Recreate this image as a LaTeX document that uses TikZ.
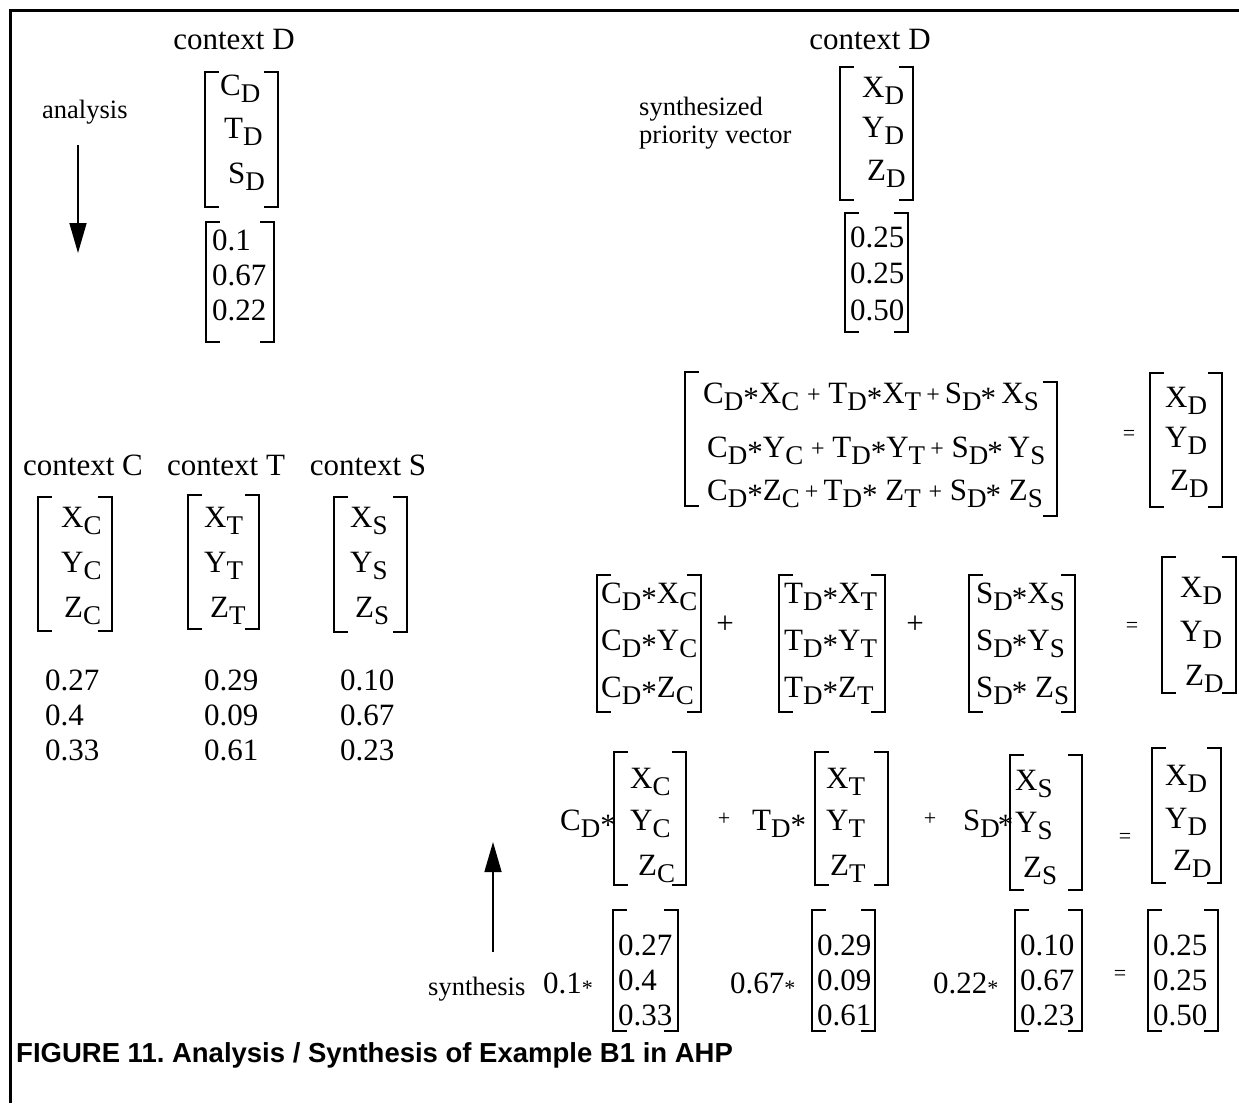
\documentclass[tikz,border=0pt]{standalone}
\usepackage{fontspec}
\setmainfont{Liberation Serif}
\newfontfamily\capfont{Liberation Sans}
\usetikzlibrary{arrows.meta}
\frenchspacing

\newcommand\mf{\fontsize{31}{36}\selectfont}
\newcommand\lf{\fontsize{26.5}{30}\selectfont}
\newcommand\lowx[1]{\raisebox{-7pt}{\fontsize{27}{27}\selectfont #1}}
\newcommand\st{\raisebox{-5pt}{*}}
\newcommand\sst{\raisebox{-2pt}{\fontsize{22}{22}\selectfont *}}
\newcommand\pl{\raisebox{1pt}{\fontsize{24}{24}\selectfont +}}

\tikzset{
  txt/.style={inner sep=0pt, font=\mf},
  lbl/.style={inner sep=0pt, font=\lf},
  sml/.style={inner sep=0pt, font=\fontsize{22}{22}\selectfont},
  brk/.style={line width=2.4pt},
  frame/.style={line width=3pt},
  arr/.style={line width=1.6pt, -{Triangle[length=30pt,width=17pt]}},
}
\newcommand\mat[4]{%
  \draw[brk] ({#1+14},#3) -- (#1,#3) -- (#1,#4) -- ({#1+14},#4);
  \draw[brk] ({#2-14},#3) -- (#2,#3) -- (#2,#4) -- ({#2-14},#4);}

\begin{document}
\begin{tikzpicture}[x=1pt,y=-1pt]
\useasboundingbox (0,0) rectangle (1239,1103);
\draw[frame] (10,1103) -- (10,10) -- (1239,10);

% ---------- top left
\node[txt,anchor=base] (ctxD1) at (234,49) {context D};
\mat{205}{278}{72}{207}
\node[txt,anchor=base west] (cd) at (220,95) {C\lowx{D}};
\node[txt,anchor=base west] (td) at (224,138) {T\lowx{D}};
\node[txt,anchor=base west] (sd) at (228,183) {S\lowx{D}};
\mat{206}{274}{222}{342}
\node[txt,anchor=base west] (w1) at (212,250) {0.1};
\node[txt,anchor=base west] (w2) at (212,285) {0.67};
\node[txt,anchor=base west] (w3) at (212,320) {0.22};
\node[lbl,anchor=base west] (anal) at (42,118) {analysis};
\coordinate (a1s) at (78,145);
\coordinate (a1e) at (78,253);
\draw[arr] (a1s) -- (a1e);

% ---------- top right
\node[txt,anchor=base] (ctxD2) at (870,49) {context D};
\node[lbl,anchor=base west] (syn1) at (639,115) {synthesized};
\node[lbl,anchor=base west] (syn2) at (639,143) {priority vector};
\mat{840}{913}{67}{200}
\node[txt,anchor=base west] (xd1) at (862,97) {X\lowx{D}};
\node[txt,anchor=base west] (yd1) at (862,137) {Y\lowx{D}};
\node[txt,anchor=base west] (zd1) at (867,180) {Z\lowx{D}};
\mat{845}{908}{213}{332}
\node[txt,anchor=base west] (p1) at (850,247) {0.25};
\node[txt,anchor=base west] (p2) at (850,283) {0.25};
\node[txt,anchor=base west] (p3) at (850,320) {0.50};

% ---------- contexts C, T, S
\node[txt,anchor=base] (ctxC) at (83,475) {context C};
\node[txt,anchor=base] (ctxT) at (226,475) {context T};
\node[txt,anchor=base] (ctxS) at (368,475) {context S};
\mat{38}{112}{497}{631}
\node[txt,anchor=base west] (xc) at (61,527) {X\lowx{C}};
\node[txt,anchor=base west] (yc) at (61,572) {Y\lowx{C}};
\node[txt,anchor=base west] (zc) at (64,617) {Z\lowx{C}};
\mat{188}{259}{495}{629}
\node[txt,anchor=base west] (xt) at (204,527) {X\lowx{T}};
\node[txt,anchor=base west] (yt) at (204,572) {Y\lowx{T}};
\node[txt,anchor=base west] (zt) at (210,617) {Z\lowx{T}};
\mat{334}{407}{497}{632}
\node[txt,anchor=base west] (xs) at (350,527) {X\lowx{S}};
\node[txt,anchor=base west] (ys) at (350,572) {Y\lowx{S}};
\node[txt,anchor=base west] (zs) at (355,617) {Z\lowx{S}};
\node[txt,anchor=base west] (c1) at (45,690) {0.27};
\node[txt,anchor=base west] (c2) at (45,725) {0.4};
\node[txt,anchor=base west] (c3) at (45,760) {0.33};
\node[txt,anchor=base west] (t1) at (204,690) {0.29};
\node[txt,anchor=base west] (t2) at (204,725) {0.09};
\node[txt,anchor=base west] (t3) at (204,760) {0.61};
\node[txt,anchor=base west] (s1) at (340,690) {0.10};
\node[txt,anchor=base west] (s2) at (340,725) {0.67};
\node[txt,anchor=base west] (s3) at (340,760) {0.23};

% ---------- equation A
\draw[brk] (699,372) -- (685,372) -- (685,506) -- (699,506);
\draw[brk] (1043,382) -- (1057,382) -- (1057,516) -- (1043,516);
\node[txt,anchor=base west] (ea1) at (703,403) {C\lowx{D}\st X\lowx{C}\ \pl\ T\lowx{D}\st X\lowx{T}\,\pl\,S\lowx{D}\kern-1pt\st\,X\lowx{S}};
\node[txt,anchor=base west] (ea2) at (707,457) {C\lowx{D}\st Y\lowx{C}\ \pl\ T\lowx{D}\st Y\lowx{T}\,\pl\ S\lowx{D}\kern-1pt\st\,Y\lowx{S}};
\node[txt,anchor=base west] (ea3) at (707,500) {C\lowx{D}\st Z\lowx{C}\,\pl\,T\lowx{D}\st\ Z\lowx{T}\ \pl\ S\lowx{D}\kern-1pt\st\ Z\lowx{S}};
\node[sml] (eqA) at (1129,435) {=};
\mat{1150}{1222}{373}{507}
\node[txt,anchor=base west] (xd2) at (1165,407) {X\lowx{D}};
\node[txt,anchor=base west] (yd2) at (1165,447) {Y\lowx{D}};
\node[txt,anchor=base west] (zd2) at (1170,490) {Z\lowx{D}};

% ---------- equation B
\mat{597}{701}{575}{712}
\node[txt,anchor=base west] (b11) at (601,603) {C\lowx{D}\st X\lowx{C}};
\node[txt,anchor=base west] (b12) at (601,650) {C\lowx{D}\st Y\lowx{C}};
\node[txt,anchor=base west] (b13) at (601,697) {C\lowx{D}\st Z\lowx{C}};
\node[txt] (plB1) at (725,625) {+};
\mat{779}{885}{575}{712}
\node[txt,anchor=base west] (b21) at (784,603) {T\lowx{D}\st X\lowx{T}};
\node[txt,anchor=base west] (b22) at (784,650) {T\lowx{D}\st Y\lowx{T}};
\node[txt,anchor=base west] (b23) at (784,697) {T\lowx{D}\st Z\lowx{T}};
\node[txt] (plB2) at (915,625) {+};
\mat{969}{1075}{575}{712}
\node[txt,anchor=base west] (b31) at (976,603) {S\lowx{D}\kern-1pt\st X\lowx{S}};
\node[txt,anchor=base west] (b32) at (976,650) {S\lowx{D}\kern-1pt\st Y\lowx{S}};
\node[txt,anchor=base west] (b33) at (976,697) {S\lowx{D}\kern-1pt\st\ Z\lowx{S}};
\node[sml] (eqB) at (1132,627) {=};
\mat{1162}{1236}{557}{693}
\node[txt,anchor=base west] (xd3) at (1180,597) {X\lowx{D}};
\node[txt,anchor=base west] (yd3) at (1180,641) {Y\lowx{D}};
\node[txt,anchor=base west] (zd3) at (1185,685) {Z\lowx{D}};

% ---------- equation C
\node[txt,anchor=base west] (cdst) at (560,830) {C\lowx{D}\st};
\mat{614}{686}{752}{885}
\node[txt,anchor=base west] (xc2) at (630,788) {X\lowx{C}};
\node[txt,anchor=base west] (yc2) at (630,830) {Y\lowx{C}};
\node[txt,anchor=base west] (zc2) at (638,875) {Z\lowx{C}};
\node[sml] (plC1) at (724,819) {+};
\node[txt,anchor=base west] (tdst) at (752,830) {T\lowx{D}\st};
\mat{815}{888}{752}{885}
\node[txt,anchor=base west] (xt2) at (826,788) {X\lowx{T}};
\node[txt,anchor=base west] (yt2) at (826,830) {Y\lowx{T}};
\node[txt,anchor=base west] (zt2) at (830,875) {Z\lowx{T}};
\node[sml] (plC2) at (930,819) {+};
\node[txt,anchor=base west] (sdst) at (963,830) {S\lowx{D}\kern-2pt\st};
\mat{1010}{1082}{755}{890}
\node[txt,anchor=base west] (xs2) at (1015,790) {X\lowx{S}};
\node[txt,anchor=base west] (ys2) at (1015,832) {Y\lowx{S}};
\node[txt,anchor=base west] (zs2) at (1023,877) {Z\lowx{S}};
\node[sml] (eqC) at (1125,838) {=};
\mat{1152}{1221}{748}{883}
\node[txt,anchor=base west] (xd4) at (1165,785) {X\lowx{D}};
\node[txt,anchor=base west] (yd4) at (1165,828) {Y\lowx{D}};
\node[txt,anchor=base west] (zd4) at (1173,870) {Z\lowx{D}};

% ---------- equation D
\node[lbl,anchor=base west] (synth) at (428,995) {synthesis};
\coordinate (a2s) at (493,952);
\coordinate (a2e) at (493,842);
\draw[arr] (a2s) -- (a2e);
\node[txt,anchor=base west] (k1) at (543,993) {0.1\sst};
\mat{613}{678}{910}{1031}
\node[txt,anchor=base west] (d11) at (618,955) {0.27};
\node[txt,anchor=base west] (d12) at (618,990) {0.4};
\node[txt,anchor=base west] (d13) at (618,1025) {0.33};
\node[txt,anchor=base west] (k2) at (730,993) {0.67\sst};
\mat{812}{875}{910}{1031}
\node[txt,anchor=base west] (d21) at (817,955) {0.29};
\node[txt,anchor=base west] (d22) at (817,990) {0.09};
\node[txt,anchor=base west] (d23) at (817,1025) {0.61};
\node[txt,anchor=base west] (k3) at (933,993) {0.22\sst};
\mat{1015}{1082}{910}{1031}
\node[txt,anchor=base west] (d31) at (1020,955) {0.10};
\node[txt,anchor=base west] (d32) at (1020,990) {0.67};
\node[txt,anchor=base west] (d33) at (1020,1025) {0.23};
\node[sml] (eqD) at (1120,975) {=};
\mat{1148}{1218}{910}{1031}
\node[txt,anchor=base west] (d41) at (1153,955) {0.25};
\node[txt,anchor=base west] (d42) at (1153,990) {0.25};
\node[txt,anchor=base west] (d43) at (1153,1025) {0.50};

% ---------- caption
\node[inner sep=0pt,anchor=base west,font={\capfont\bfseries\fontsize{27.5}{30}\selectfont}] (cap) at (16,1062) {FIGURE 11. Analysis / Synthesis of Example B1 in AHP};
\end{tikzpicture}
\end{document}
